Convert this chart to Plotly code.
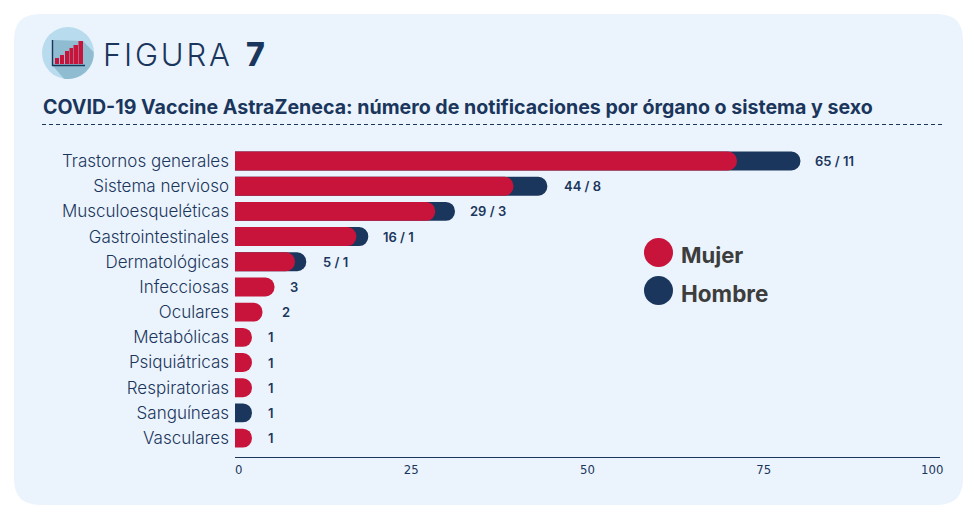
import plotly.graph_objects as go

W, H = 974, 516
NAVY = "#1b365d"
RED = "#c8133a"
PANEL = "#ebf4fc"
FONT = "Inter"
AXISFONT = "DejaVu Sans Condensed, Roboto, sans-serif"

categories = ["Trastornos generales", "Sistema nervioso", "Musculoesqueléticas", "Gastrointestinales",
              "Dermatológicas", "Infecciosas", "Oculares", "Metabólicas", "Psiquiátricas",
              "Respiratorias", "Sanguíneas", "Vasculares"]
mujer_bar = [71.2, 39.5, 28.4, 17.2, 8.5, 5.6, 3.9, 2.4, 2.4, 2.4, None, 2.4]
total_bar = [80.2, 44.3, 31.2, 18.9, 10.1, None, None, None, None, None, 2.4, None]
labels = ["65 / 11", "44 / 8", "29 / 3", "16 / 1", "5 / 1", "3", "2", "1", "1", "1", "1", "1"]
label_anchor = [80.2, 44.3, 31.2, 18.9, 10.1, 5.6, 3.9, 2.4, 2.4, 2.4, 2.4, 2.4]
label_shift = [13, 15, 13, 13, 15, 14, 18, 14, 14, 14, 14, 14]
tick_vals = [25, 50, 75]
title_text = "COVID-19 Vaccine AstraZeneca: número de notificaciones por órgano o sistema y sexo"


def X(p):
    return p / W


def Y(p):
    return 1 - p / H


def P(*cmds):
    out = []
    for c in cmds:
        if isinstance(c, str):
            out.append(c)
        else:
            out.append(f"{X(c[0]):.5f},{Y(c[1]):.5f}")
    return " ".join(out)


def paper(**kw):
    return dict(xref="paper", yref="paper", **kw)


fig = go.Figure()
fig.add_trace(go.Bar(y=categories, x=total_bar, name="Hombre", orientation="h", marker=dict(color=NAVY, line_width=0)))
fig.add_trace(go.Bar(y=categories, x=mujer_bar, name="Mujer", orientation="h", xaxis="x2", yaxis="y2",
                     marker=dict(color=RED, line_width=0)))

l, t, r, b, rad = 14, 14, 963, 505, 26
shapes = [
    paper(type="path", layer="below", fillcolor=PANEL, line_width=0,
          path=P("M", (l + rad, t), "L", (r - rad, t), "Q", (r, t), (r, t + rad), "L", (r, b - rad), "Q", (r, b), (r - rad, b),
                 "L", (l + rad, b), "Q", (l, b), (l, b - rad), "L", (l, t + rad), "Q", (l, t), (l + rad, t), "Z")),
    paper(type="circle", layer="below", fillcolor="#b9dbee", line_width=0, x0=X(42), x1=X(94), y0=Y(79), y1=Y(27)),
    paper(type="path", layer="below", fillcolor="#8fbcd1", line_width=0,
          path=P("M", (53, 40), "L", (83, 41), "L", (93.5, 52), "C", (95, 66), (82, 81), (64, 78.7), "L", (53, 66), "Z")),
    paper(type="line", layer="below", line=dict(color=NAVY, width=1, dash="4px,3px"), x0=X(42), x1=X(942), y0=Y(124.5), y1=Y(124.5)),
    paper(type="line", layer="above", line=dict(color=NAVY, width=1.4), x0=X(52.5), x1=X(52.5), y0=Y(40), y1=Y(66)),
    paper(type="line", layer="above", line=dict(color=NAVY, width=1.4), x0=X(52), x1=X(85), y0=Y(65.5), y1=Y(65.5)),
    paper(type="circle", fillcolor=RED, line_width=0, x0=X(644), x1=X(673), y0=Y(267), y1=Y(238)),
    paper(type="circle", fillcolor=NAVY, line_width=0, x0=X(644), x1=X(673), y0=Y(305), y1=Y(276)),
]
for x0, x1, top in [(55, 59, 58), (60, 64, 55), (65, 69, 51), (69.5, 73, 48), (73.5, 78, 45), (78.5, 83, 41)]:
    shapes.append(paper(type="rect", fillcolor=RED, line_width=0, x0=X(x0), x1=X(x1), y0=Y(64), y1=Y(top)))

anns = [
    paper(text="F\u200aI\u200aG\u200aU\u200aR\u200aA", x=X(101), y=Y(55), xanchor="left", yanchor="middle", showarrow=False,
          font=dict(family=FONT, size=31, color=NAVY, weight=300)),
    paper(text="7", x=X(244), y=Y(55), xanchor="left", yanchor="middle", showarrow=False,
          font=dict(family=FONT, size=32, color=NAVY, weight=800)),
    paper(text=f"<b>{title_text}</b>", x=X(41), y=Y(107), xanchor="left", yanchor="middle", showarrow=False,
          font=dict(family=FONT, size=19.6, color=NAVY)),
    paper(text="<b>Mujer</b>", x=X(679), y=Y(255), xanchor="left", yanchor="middle", showarrow=False,
          font=dict(family=FONT, size=22, color="#3d3d3d")),
    paper(text="<b>Hombre</b>", x=X(679), y=Y(293), xanchor="left", yanchor="middle", showarrow=False,
          font=dict(family=FONT, size=22.5, color="#3d3d3d")),
    paper(text="0", x=X(238), y=Y(469), xanchor="center", yanchor="middle", showarrow=False,
          font=dict(family=AXISFONT, size=13, color=NAVY)),
    paper(text="100", x=X(932), y=Y(469), xanchor="center", yanchor="middle", showarrow=False,
          font=dict(family=AXISFONT, size=13, color=NAVY)),
]
for cat, val, txt, sh in zip(categories, label_anchor, labels, label_shift):
    anns.append(dict(xref="x", yref="y", x=val, y=cat, text=txt, showarrow=False, xanchor="left", xshift=sh,
                     font=dict(family=FONT, size=13, color=NAVY, weight=600)))

x_domain = [X(235), X(940)]
y_domain = [Y(457), Y(148.4)]
y_range = [11.75, -0.5]
fig.update_layout(
    width=W, height=H, margin=dict(l=0, r=0, t=0, b=0), autosize=False,
    paper_bgcolor="white", plot_bgcolor="rgba(0,0,0,0)",
    barmode="overlay", bargap=0.25, barcornerradius=9, showlegend=False,
    shapes=shapes, annotations=anns,
    xaxis=dict(domain=x_domain, range=[0, 100], tickvals=tick_vals, ticks="", showgrid=False, zeroline=False,
               showline=True, linecolor=NAVY, linewidth=1, anchor="y",
               tickfont=dict(family=AXISFONT, size=13, color=NAVY)),
    yaxis=dict(domain=y_domain, range=y_range, type="category", categoryorder="array", categoryarray=categories,
               ticks="", showgrid=False, showline=False, zeroline=False, ticklabelstandoff=5,
               tickfont=dict(family=FONT, size=17, color=NAVY, weight=300), automargin=False),
    xaxis2=dict(overlaying="x", anchor="y2", range=[0, 100], visible=False),
    yaxis2=dict(overlaying="y", anchor="x2", range=y_range, type="category", categoryorder="array",
                categoryarray=categories, visible=False),
)
fig.write_html("out.html", post_script="document.body.style.margin='0';", config={"displayModeBar": False})
